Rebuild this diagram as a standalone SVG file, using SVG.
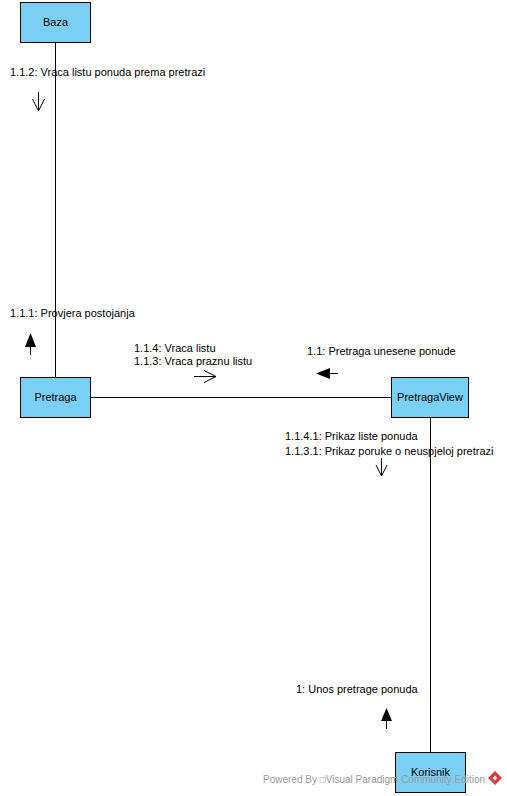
<svg xmlns="http://www.w3.org/2000/svg" width="507" height="796" viewBox="0 0 507 796">
<style>
.node rect{fill:#7ACFF5;stroke:#000;stroke-width:1}
text{font-family:"Liberation Sans",Arial,sans-serif;font-size:11px;fill:#000}
.lbl{text-anchor:middle}
.conn line,.conn path{stroke:#000;stroke-width:1;fill:none}
.open{stroke:#000;stroke-width:1;fill:none}
.fill{fill:#000;stroke:none}
.wm{font-size:10px;fill:#9a9a9a}
</style>
<rect width="507" height="796" fill="#fff"/>
<g id="connectors" class="conn">
<line x1="55.5" y1="42" x2="55.5" y2="377"/>
<line x1="90" y1="397.5" x2="391" y2="397.5"/>
<line x1="430.5" y1="417" x2="430.5" y2="752"/>
</g>
<g id="messages">
<text x="10" y="76">1.1.2: Vraca listu ponuda prema pretrazi</text>
<line class="open" x1="38.5" y1="92" x2="38.5" y2="111"/>
<path class="open" d="M32.5,99 L38.5,111 L44.5,99"/>
<text x="10" y="317">1.1.1: Provjera postojanja</text>
<line class="open" x1="30.5" y1="345" x2="30.5" y2="355"/>
<polygon class="fill" points="30.5,333 25,347 36,347"/>
<text x="134" y="352">1.1.4: Vraca listu</text>
<text x="134" y="365">1.1.3: Vraca praznu listu</text>
<line class="open" x1="194" y1="376.5" x2="216" y2="376.5"/>
<path class="open" d="M204,370.5 L216,376.5 L204,382.5"/>
<text x="307" y="355">1.1: Pretraga unesene ponude</text>
<line class="open" x1="328" y1="373.5" x2="338" y2="373.5"/>
<polygon class="fill" points="316,373.5 330,368 330,379"/>
<text x="285" y="440">1.1.4.1: Prikaz liste ponuda</text>
<text x="285" y="455">1.1.3.1: Prikaz poruke o neuspjeloj pretrazi</text>
<line class="open" x1="381.5" y1="458" x2="381.5" y2="476"/>
<path class="open" d="M376,465 L381.5,476 L387,465"/>
<text x="296" y="693">1: Unos pretrage ponuda</text>
<line class="open" x1="386.5" y1="718" x2="386.5" y2="729"/>
<polygon class="fill" points="386.5,708 381,721 392,721"/>
</g>
<g id="Baza" class="node">
<rect x="20.5" y="2.5" width="70" height="40"/>
<text class="lbl" x="55.5" y="26">Baza</text>
</g>
<g id="Pretraga" class="node">
<rect x="20.5" y="377.5" width="70" height="40"/>
<text class="lbl" x="55.5" y="401">Pretraga</text>
</g>
<g id="PretragaView" class="node">
<rect x="391.5" y="377.5" width="77" height="40"/>
<text class="lbl" x="430" y="401">PretragaView</text>
</g>
<g id="Korisnik" class="node">
<rect x="395.5" y="752.5" width="70" height="40"/>
<text class="lbl" x="430.5" y="776">Korisnik</text>
</g>
<g id="watermark">
<text class="wm" x="263" y="783">Powered By □Visual Paradigm Community Edition</text>
<polygon points="495,771 502,778 495,785 488,778" fill="#e0393e"/>
<path d="M492.5,778 L495,775.5 L497.5,778 L495,780.5 Z" fill="#fff"/>
</g>
</svg>
